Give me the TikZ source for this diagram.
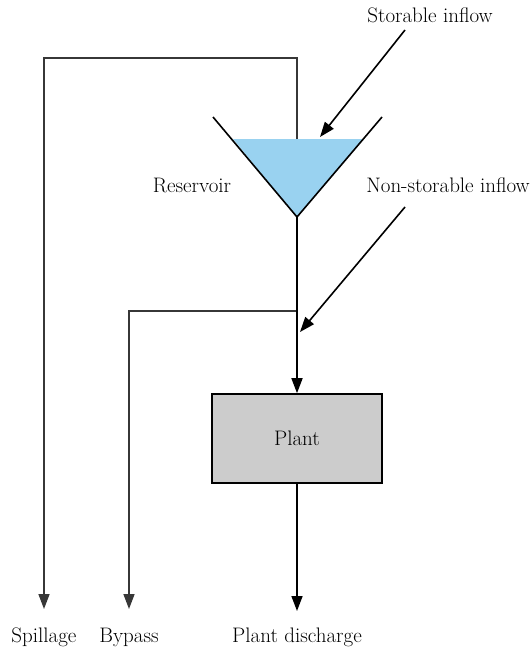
\documentclass[tikz,border=0pt]{standalone}
\usepackage{fontspec}
\usetikzlibrary{arrows.meta}
\definecolor{water}{RGB}{153,210,240}
\definecolor{plantgray}{RGB}{204,204,204}
\definecolor{flowgray}{RGB}{55,55,55}
\begin{document}
\begin{tikzpicture}[x=1pt,y=-1pt,
  flow/.style={line width=1.6pt,-{Triangle[length=15pt,width=11pt]}},
  pipe/.style={line width=1.6pt},
  lbl/.style={font=\fontsize{21}{24}\selectfont,inner sep=0pt}]
\useasboundingbox (0,0) rectangle (531,653);
% reservoir water and walls
\fill[water] (233,139) -- (363,139) -- (297,217) -- cycle;
\coordinate (wl) at (213,117);
\coordinate (apex) at (297,217);
\coordinate (wr) at (382,117);
\draw[pipe] (wl) -- (apex) -- (wr);
% plant
\node[draw,fill=plantgray,line width=1.6pt,minimum width=170pt,minimum height=89pt,
  inner sep=0pt,font=\fontsize{21}{24}\selectfont] (plant) at (297,438.5) {Plant};
% labels
\node[lbl] (storable) at (430,15) {Storable inflow};
\node[lbl] (nonstor) at (448,185) {Non-storable inflow};
\node[lbl] (res) at (192,185) {Reservoir};
\node[lbl] (spill) at (44,637) {Spillage};
\node[lbl] (bypass) at (129,637) {Bypass};
\node[lbl] (disch) at (297,637) {Plant discharge};
% helper points
\coordinate (sin0) at (405,30);
\coordinate (sin1) at (320,137);
\coordinate (nin0) at (405,207);
\coordinate (nin1) at (300,332);
\coordinate (spilltop) at (297,139);
\coordinate (spillend) at (44,609);
\coordinate (bypj) at (297,311);
\coordinate (bypend) at (129,609);
\coordinate (dischend) at (297,611);
% inflows
\draw[flow] (sin0) -- (sin1);
\draw[flow] (nin0) -- (nin1);
% spillage and bypass
\draw[flow,color=flowgray] (spilltop) |- (44,58) -- (spillend);
\draw[flow,color=flowgray] (bypj) -| (bypend);
% turbine flow
\draw[flow] (apex) -- (plant.north);
\draw[flow] (plant.south) -- (dischend);
\end{tikzpicture}
\end{document}
